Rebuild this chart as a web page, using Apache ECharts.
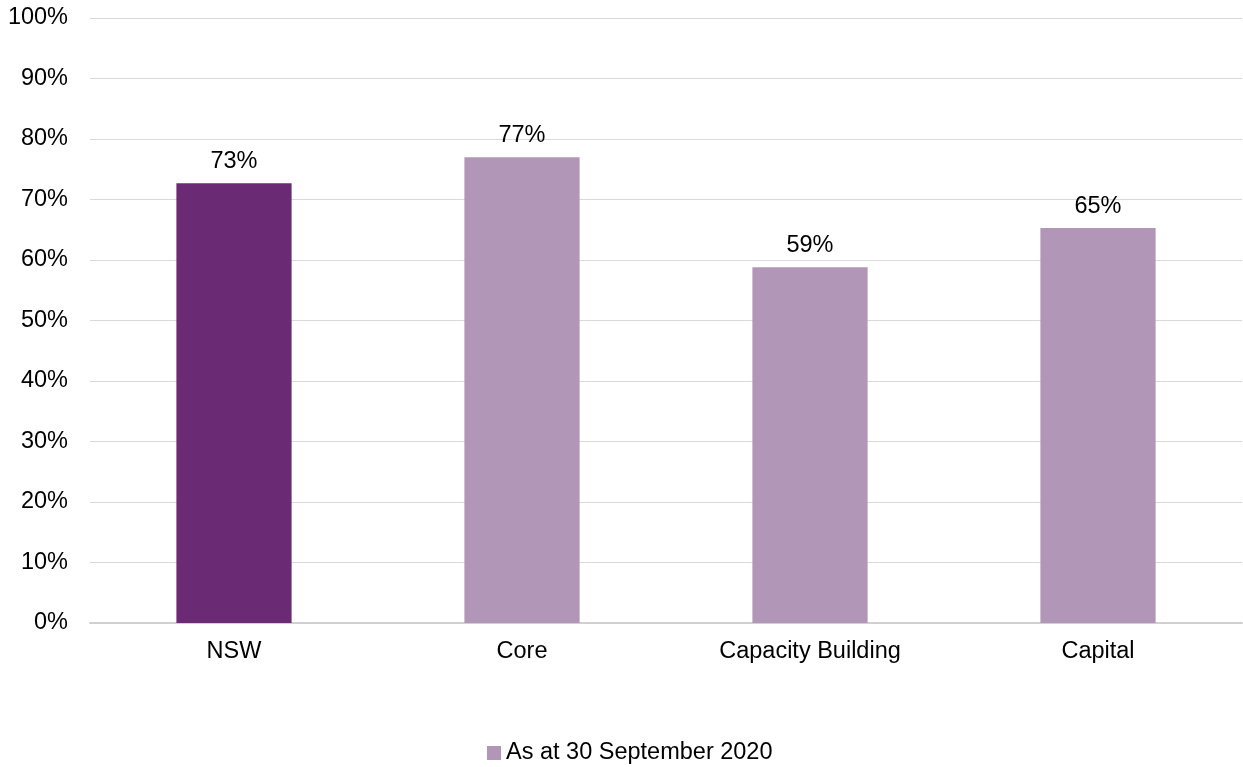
<!DOCTYPE html>
<html><head><meta charset="utf-8">
<script src="https://cdn.jsdelivr.net/npm/echarts@6/dist/echarts.min.js"></script>
<style>html,body{margin:0;padding:0;background:#fff}#c{width:1243px;height:767px}</style>
</head><body><div id="c"></div>
<script>
const categories = ['NSW', 'Core', 'Capacity Building', 'Capital'];
const values = [72.7, 77.0, 58.8, 65.3];
const seriesName = 'As at 30 September 2020';
const yTicks = [0, 10, 20, 30, 40, 50, 60, 70, 80, 90, 100];

const font = '"Liberation Sans", Arial, sans-serif';
const fs = 23.5;
const chart = echarts.init(document.getElementById('c'));
chart.setOption({
  animation: false,
  grid: { left: 90, right: 1, top: 18, bottom: 144, containLabel: false },
  legend: {
    top: 736, left: 482, itemWidth: 14, itemHeight: 14, itemGap: 10,
    icon: 'rect',
    textStyle: { fontFamily: font, fontSize: fs, color: '#000' },
    data: [seriesName]
  },
  xAxis: {
    type: 'category', data: categories,
    axisLine: { lineStyle: { color: '#d0d0d0', width: 2 } },
    axisTick: { show: false },
    axisLabel: { fontFamily: font, fontSize: fs, color: '#000', margin: 17 }
  },
  yAxis: {
    type: 'value', min: 0, max: 100, interval: 10,
    axisLine: { show: false }, axisTick: { show: false },
    splitLine: { lineStyle: { color: '#d9d9d9', width: 1 } },
    axisLabel: { fontFamily: font, fontSize: fs, color: '#000', margin: 22, padding: [5, 0, 0, 0],
      formatter: v => yTicks.includes(v) ? v + '%' : '' }
  },
  series: [{
    name: seriesName, type: 'bar', barWidth: '40%',
    itemStyle: { color: '#b196b7' },
    data: values.map((v, i) => i === 0 ? { value: v, itemStyle: { color: '#6b2a74' } } : v),
    label: { show: true, position: 'top', distance: 9.5, fontFamily: font, fontSize: fs, color: '#000',
      formatter: p => Math.round(p.value) + '%' }
  }]
});
</script></body></html>
